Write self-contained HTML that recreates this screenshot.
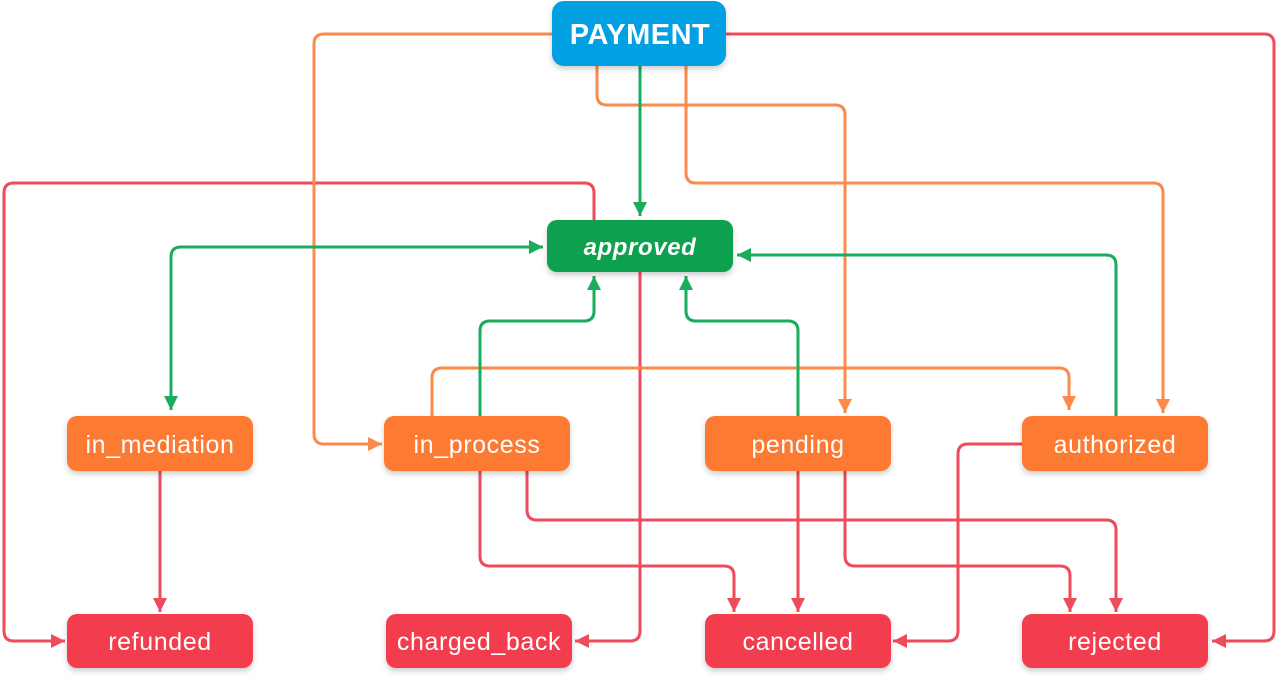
<!DOCTYPE html>
<html><head><meta charset="utf-8"><style>
html,body{margin:0;padding:0;background:#fff;width:1278px;height:678px;overflow:hidden}
svg{display:block}
text{font-family:"Liberation Sans",sans-serif;fill:#fff}
</style></head><body>
<svg width="1278" height="678" viewBox="0 0 1278 678">
<defs>
<marker id="r" markerUnits="userSpaceOnUse" markerWidth="14" markerHeight="14" viewBox="0 0 12 12" refX="12" refY="6" orient="auto"><path d="M0 0 L12 6 L0 12 z" fill="#ee4b5d"/></marker>
<marker id="o" markerUnits="userSpaceOnUse" markerWidth="14" markerHeight="14" viewBox="0 0 12 12" refX="12" refY="6" orient="auto"><path d="M0 0 L12 6 L0 12 z" fill="#fd8a4a"/></marker>
<marker id="g" markerUnits="userSpaceOnUse" markerWidth="14" markerHeight="14" viewBox="0 0 12 12" refX="12" refY="6" orient="auto"><path d="M0 0 L12 6 L0 12 z" fill="#1bab5d"/></marker>
<marker id="gs" markerUnits="userSpaceOnUse" markerWidth="14" markerHeight="14" viewBox="0 0 12 12" refX="12" refY="6" orient="auto-start-reverse"><path d="M0 0 L12 6 L0 12 z" fill="#1bab5d"/></marker>
<filter id="sh" x="-10%" y="-20%" width="120%" height="150%"><feDropShadow dx="0" dy="3" stdDeviation="3" flood-opacity="0.2"/></filter>
</defs>
<g fill="none" stroke-width="3" stroke-linejoin="round">
<g stroke="#ee4b5d" marker-end="url(#r)">
<path d="M726 34 H1264 Q1274 34 1274 44 V631 Q1274 641 1264 641 H1212"/>
<path d="M594 220 V193 Q594 183 584 183 H14 Q4 183 4 193 V631 Q4 641 14 641 H65"/>
<path d="M640 272 V631 Q640 641 630 641 H575"/>
<path d="M160 471 V612"/>
<path d="M480 471 V556 Q480 566 490 566 H724 Q734 566 734 576 V612"/>
<path d="M527 471 V510 Q527 520 537 520 H1106 Q1116 520 1116 530 V612"/>
<path d="M798 471 V612"/>
<path d="M845 471 V556 Q845 566 855 566 H1060 Q1070 566 1070 576 V612"/>
<path d="M1022 444 H968 Q958 444 958 454 V631 Q958 641 948 641 H893"/>
</g>
<g stroke="#fd8a4a" marker-end="url(#o)">
<path d="M552 34 H324 Q314 34 314 44 V434 Q314 444 324 444 H382"/>
<path d="M597 66 V95 Q597 105 607 105 H835 Q845 105 845 115 V413"/>
<path d="M686 66 V173 Q686 183 696 183 H1153 Q1163 183 1163 193 V413"/>
<path d="M432 416 V378 Q432 368 442 368 H1059 Q1069 368 1069 378 V410"/>
</g>
<g stroke="#1bab5d" marker-end="url(#g)">
<path d="M640 66 V216"/>
<path d="M543 247 H181 Q171 247 171 257 V410" marker-start="url(#gs)" marker-end="url(#gs)"/>
<path d="M480 416 V331 Q480 321 490 321 H584 Q594 321 594 311 V276"/>
<path d="M798 416 V331 Q798 321 788 321 H696 Q686 321 686 311 V276"/>
<path d="M1116 416 V265 Q1116 255 1106 255 H737"/>
</g>
</g>
<g filter="url(#sh)">
<rect x="552" y="1" width="174" height="65" rx="12" fill="#06a0e2"/>
<rect x="547" y="220" width="186" height="52" rx="10" fill="#0aa150"/>
<rect x="67" y="416" width="186" height="55" rx="10" fill="#fd7a33"/>
<rect x="384" y="416" width="186" height="55" rx="10" fill="#fd7a33"/>
<rect x="705" y="416" width="186" height="55" rx="10" fill="#fd7a33"/>
<rect x="1022" y="416" width="186" height="55" rx="10" fill="#fd7a33"/>
<rect x="67" y="614" width="186" height="54" rx="10" fill="#f23d50"/>
<rect x="386" y="614" width="186" height="54" rx="10" fill="#f23d50"/>
<rect x="705" y="614" width="186" height="54" rx="10" fill="#f23d50"/>
<rect x="1022" y="614" width="186" height="54" rx="10" fill="#f23d50"/>
</g>
<g text-anchor="middle" font-size="25" letter-spacing="0.6">
<text x="640" y="44" font-size="29" font-weight="bold" letter-spacing="0.5">PAYMENT</text>
<text x="640" y="255" font-size="24" font-weight="bold" font-style="italic" letter-spacing="0.6">approved</text>
<text x="160" y="453">in_mediation</text>
<text x="477" y="453">in_process</text>
<text x="798" y="453">pending</text>
<text x="1115" y="453">authorized</text>
<text x="160" y="650">refunded</text>
<text x="479" y="650">charged_back</text>
<text x="798" y="650">cancelled</text>
<text x="1115" y="650">rejected</text>
</g>
</svg>
</body></html>
